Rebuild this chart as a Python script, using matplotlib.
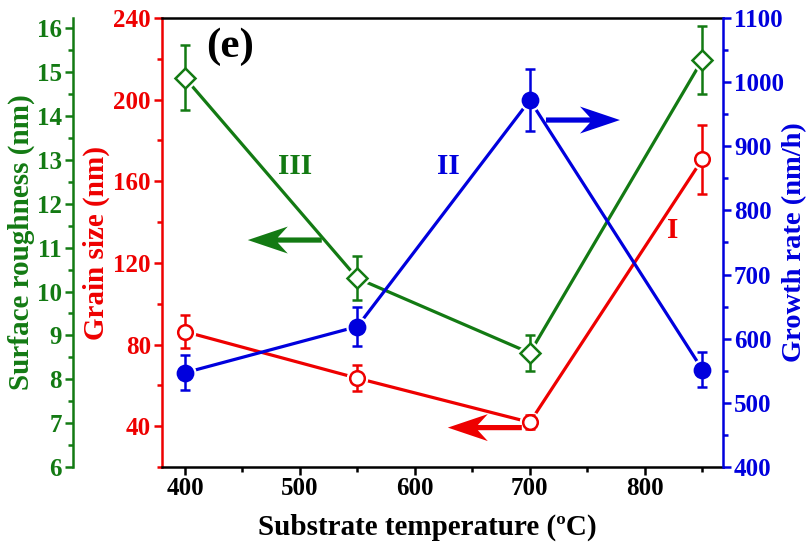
"""Grain size, surface roughness and growth rate versus substrate temperature."""

import matplotlib

matplotlib.use("Agg")
import matplotlib.pyplot as plt
from matplotlib.patches import Polygon
from matplotlib.ticker import MultipleLocator
from matplotlib.transforms import Affine2D, ScaledTranslation

temperature = [400, 550, 700, 850]

grain_size = [86.3, 63.5, 41.9, 170.8]
grain_err = [8.2, 6.5, 3.5, 17.0]

roughness = [14.87, 10.30, 8.60, 15.28]
roughness_err = [0.74, 0.50, 0.42, 0.77]

growth_rate = [547, 619, 972, 552]
growth_err = [27, 30, 48, 28]

RED = "#ee0000"
GREEN = "#137a13"
BLUE = "#0000dd"

plt.rcParams["font.family"] = ["Liberation Serif", "DejaVu Serif"]
plt.rcParams["font.weight"] = "bold"
plt.rcParams["axes.labelweight"] = "bold"

W, H = 806, 545
fig = plt.figure(figsize=(W / 100, H / 100), dpi=100)
left, right, bottom, top = 162, 723, 467, 18
ax = fig.add_axes([left / W, 1 - bottom / H, (right - left) / W, (bottom - top) / H])
ax_g = ax.twinx()
ax_b = ax.twinx()

SPINE_W = 1.8
TICK_FS = 18
LABEL_FS = 21


def style_axis(a, side, color):
    for sp in a.spines.values():
        sp.set_visible(False)
    a.spines[side].set_visible(True)
    a.spines[side].set_color(color)
    a.spines[side].set_linewidth(SPINE_W)
    a.tick_params(axis="y", which="both", colors=color, direction="out",
                  width=SPINE_W, labelsize=TICK_FS, pad=2)
    a.tick_params(axis="y", which="major", length=6)
    a.tick_params(axis="y", which="minor", length=3.5)


# host axis: grain size (red, left), bottom and top spines black
style_axis(ax, "left", RED)
for side in ("bottom", "top"):
    ax.spines[side].set_visible(True)
    ax.spines[side].set_color("black")
    ax.spines[side].set_linewidth(SPINE_W)
ax.tick_params(axis="x", which="both", colors="black", direction="out",
               width=SPINE_W, labelsize=TICK_FS, top=False, pad=1)
ax.tick_params(axis="x", which="major", length=6)
ax.tick_params(axis="x", which="minor", length=3.5)
ax.set_xlim(380, 868)
ax.xaxis.set_major_locator(MultipleLocator(100))
ax.xaxis.set_minor_locator(MultipleLocator(50))
ax.set_ylim(20, 240)
ax.set_yticks([40, 80, 120, 160, 200, 240])
ax.yaxis.set_minor_locator(MultipleLocator(20))
ax.set_xlabel("Substrate temperature (\u00baC)", fontsize=LABEL_FS)
ax.xaxis.set_label_coords((427 - left) / (right - left), -(514 - bottom) / (bottom - top))
ax.set_ylabel("Grain size (nm)", fontsize=LABEL_FS, color=RED, labelpad=2)

# surface roughness (green, offset left)
style_axis(ax_g, "left", GREEN)
ax_g.yaxis.set_ticks_position("left")
ax_g.yaxis.set_label_position("left")
ax_g.spines["left"].set_position(("axes", -(left - 73) / (right - left)))
ax_g.set_ylim(6, 16.235)
ax_g.yaxis.set_major_locator(MultipleLocator(1))
ax_g.yaxis.set_minor_locator(MultipleLocator(0.5))
ax_g.set_ylabel("Surface roughness (nm)", fontsize=LABEL_FS, color=GREEN, labelpad=1)

# growth rate (blue, right)
style_axis(ax_b, "right", BLUE)
ax_b.set_ylim(400, 1100)
ax_b.yaxis.set_major_locator(MultipleLocator(100))
ax_b.yaxis.set_minor_locator(MultipleLocator(50))
ax_b.set_ylabel("Growth rate (nm/h)", fontsize=20.5, color=BLUE)
ax_b.yaxis.set_label_coords((782 - left) / (right - left), 0.5)

LW = 2.3


def draw_series(a, y, err, color, marker, ms, face):
    a.plot(temperature, y, color=color, lw=LW, zorder=2)
    a.plot(temperature, y, ls="none", marker=marker, ms=ms + 4,
           color="white", zorder=3)
    a.errorbar(temperature, y, yerr=err, fmt="none", ecolor=color,
               elinewidth=1.8, capsize=3.5, capthick=1.8, zorder=4)
    a.plot(temperature, y, ls="none", marker=marker, ms=ms, mfc=face,
           mec=color, mew=1.8, zorder=5)


draw_series(ax, grain_size, grain_err, RED, "o", 10.5, "white")
draw_series(ax_g, roughness, roughness_err, GREEN, "D", 10.5, "white")
draw_series(ax_b, growth_rate, growth_err, BLUE, "o", 11, BLUE)

# Origin-style arrows, shape in pixels relative to the tail, pointing right
ARROW_SHAPE = [(0, 2.6), (44, 2.6), (34, 13.5), (74, 0), (34, -13.5),
               (44, -2.6), (0, -2.6)]


def add_arrow(x, y, direction, color):
    trans = Affine2D().scale(direction, 1) + ScaledTranslation(x, y, ax.transData)
    ax_b.add_patch(Polygon(ARROW_SHAPE, closed=True, color=color, lw=0,
                           transform=trans, zorder=6))


add_arrow(519, 131.2, -1, GREEN)
add_arrow(693, 39.3, -1, RED)
add_arrow(714, 190, 1, BLUE)

ax.text(496, 167, "III", color=GREEN, fontsize=21, ha="center", va="center")
ax.text(629, 167, "II", color=BLUE, fontsize=21, ha="center", va="center")
ax.text(824, 136, "I", color=RED, fontsize=21, ha="center", va="center")
ax.text(439, 226, "(e)", color="black", fontsize=31, ha="center", va="center")

fig.savefig("out.png", dpi=100)
